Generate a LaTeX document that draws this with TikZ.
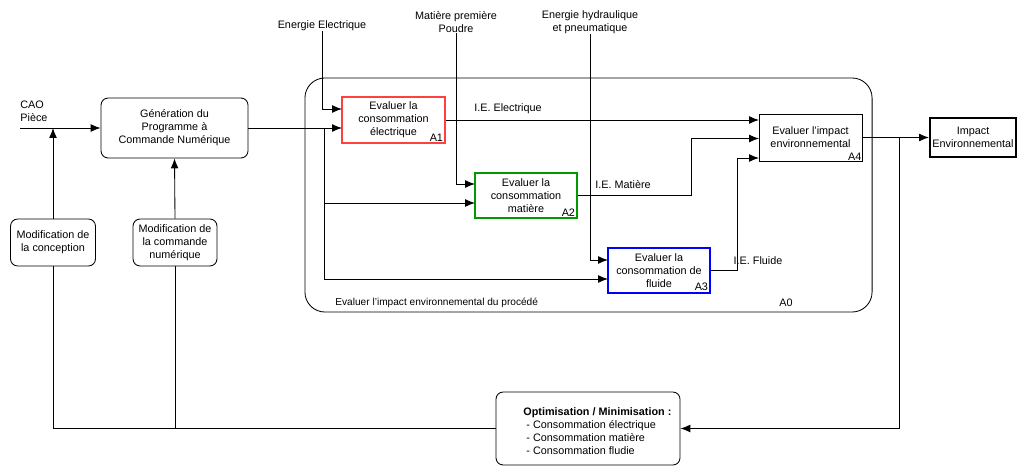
\documentclass[tikz,border=0pt]{standalone}
\usepackage{fontspec}
\setmainfont{Liberation Sans}
\usepackage{tikz}
\usetikzlibrary{arrows.meta}

\begin{document}
\begin{tikzpicture}[x=0.025cm,y=-0.025cm,line width=0.6pt,
  box/.style={draw,align=center,inner sep=0pt,fill=white},
  rbox/.style={box,rounded corners=0.18cm},
  cbox/.style={box,draw=#1,line width=0.75pt},
  arr/.style={-{Latex[length=7pt,width=5.5pt]}},
  lbl/.style={align=center,inner sep=0pt},
  tag/.style={anchor=south east,inner sep=1.5pt}]
\fontsize{7.7}{9.3}\selectfont
\useasboundingbox (0,0) rectangle (1017,466);
  \node[draw,rounded corners=0.5cm,minimum width=14.175cm,minimum height=5.85cm] (a0) at (588.5,195) {};
  \node[anchor=west,inner sep=0pt,font=\fontsize{7.2}{9}\selectfont] (a0txt) at (335,303) {Evaluer l'impact environnemental du procédé};
  \node[inner sep=0pt] (a0n) at (786,303) {A0};
  \node[rbox,minimum width=3.675cm,minimum height=1.5cm] (gen) at (174.5,128) {Génération du\\Programme à\\Commande Numérique};
  \node[rbox,minimum width=2.125cm,minimum height=1.175cm] (modc) at (53,242.5) {Modification de\\la conception};
  \node[rbox,minimum width=2.1cm,minimum height=1.175cm] (modn) at (175,242.5) {Modification de\\la commande\\numérique};
  \node[anchor=west,align=left,inner sep=0pt] (caotxt) at (20,111) {CAO\\Pièce};
  \coordinate (cao) at (20,128);
  \node[cbox=red!75,minimum width=2.575cm,minimum height=1.15cm] (a1) at (393.5,120) {Evaluer la\\consommation\\électrique};
  \node[tag] (a1n) at (a1.south east) {A1};
  \node[cbox=green!60!black,minimum width=2.55cm,minimum height=1.125cm] (a2) at (526,195.5) {Evaluer la\\consommation\\matière};
  \node[tag] (a2n) at (a2.south east) {A2};
  \node[cbox=blue,minimum width=2.55cm,minimum height=1.125cm] (a3) at (659,270.5) {Evaluer la\\consommation de\\fluide};
  \node[tag] (a3n) at (a3.south east) {A3};
  \node[box,minimum width=2.575cm,minimum height=1.175cm] (a4) at (810.5,137.5) {Evaluer l'impact\\environnemental};
  \node[tag,inner sep=0.5pt] (a4n) at (a4.south east) {A4};
  \node[box,line width=1.5pt,minimum width=2.15cm,minimum height=0.975cm] (imp) at (973,137.5) {Impact\\Environnemental};
  \node[rbox,minimum width=4.6cm,minimum height=1.825cm] (opt) at (588,428.5) {};
  \node[anchor=west,align=left,inner sep=0pt] (opttxt) at (523,431.5) {\textbf{Optimisation / Minimisation :}\\ \ - Consommation électrique\\ \ - Consommation matière\\ \ - Consommation fludie};
  \node[lbl] (elec) at (322,26) {Energie Electrique};
  \node[lbl] (mat) at (456,22) {Matière première\\Poudre};
  \node[lbl] (hyd) at (590,22) {Energie hydraulique\\et pneumatique};
  \node[lbl] (ie1) at (508,109) {I.E. Electrique};
  \node[lbl] (ie2) at (623,185) {I.E. Matière};
  \node[lbl] (ie3) at (758,261) {I.E. Fluide};
  \coordinate (a1in) at (342,109);
  \coordinate (a1in2) at (342,128);
  \coordinate (a2in) at (475,184);
  \coordinate (a2in2) at (475,203);
  \coordinate (a3in) at (608,260);
  \coordinate (a3in2) at (608,279);
  \coordinate (a4in1) at (759,120);
  \coordinate (a4in2) at (759,138.5);
  \coordinate (a4in3) at (759,158);
  \coordinate (split) at (324,128);
  \coordinate (fb) at (899,137.5);
  \draw[arr] (cao) -- (gen.west);
  \draw[arr] (gen.east |- a1in2) -- (a1in2);
  \draw[arr] (split) |- (a2in2);
  \draw[arr] (split) |- (a3in2);
  \draw[arr] (elec.south) |- (a1in);
  \draw[arr] (mat.south) |- (a2in);
  \draw[arr] (hyd.south) |- (a3in);
  \draw[arr] (a1.east) -- (a4in1);
  \draw[arr] (a2.east) -- ++(114,0) |- (a4in2);
  \draw[arr] (a3.east) -- ++(27,0) |- (a4in3);
  \draw[arr] (a4.east) -- (imp.west);
  \draw[arr] (fb) |- (opt.east);
  \draw (opt.west) -| (modc.south);
  \draw (modn.south) -- (modn.south |- opt.west);
  \draw[arr] (modc.north) -- (modc.north |- cao);
  \draw[arr] (modn.north) -- (gen.south);
\end{tikzpicture}
\end{document}
